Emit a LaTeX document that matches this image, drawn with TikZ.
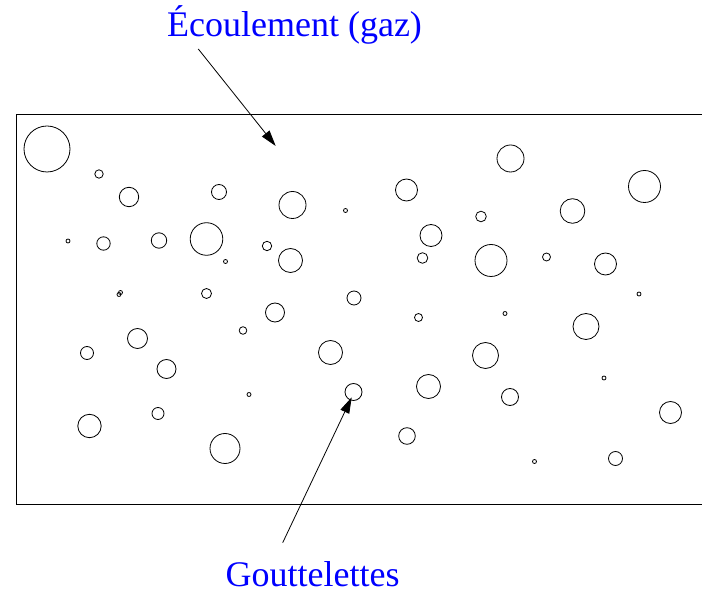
\documentclass[tikz,border=0pt]{standalone}
\usepackage{fontspec}
\setmainfont{Liberation Serif}
\usetikzlibrary{arrows.meta}
\definecolor{labelblue}{RGB}{0,0,255}
\tikzset{
  frame/.style={line width=0.8pt},
  drop/.style={line width=0.8pt},
  pointer/.style={line width=0.8pt,-{Triangle[length=16pt,width=9.5pt]}},
  lbl/.style={text=labelblue,font=\fontsize{36}{40}\selectfont,inner sep=0pt,anchor=base}
}
\begin{document}
\begin{tikzpicture}[x=1pt,y=-1pt]
\useasboundingbox (0,0) rectangle (702,593);
% channel
\draw[frame] (702,114) -- (16,114) -- (16,504) -- (702,504);
% droplets
\foreach \x/\y/\r in {
  47/149/23, 99/174/4.2, 129/197/9.7, 219/192/7.5, 68/241/2, 103.5/243.5/6.7,
  159/240.5/7.7, 206.5/239/16.3, 225.5/261.5/2, 119/294.5/2, 120.5/292.5/2,
  206.5/293.5/5,
  292.5/205/13.5, 345.5/210.5/2, 406.5/190/11, 431/235.5/11, 422.5/258/5.3,
  267/246/4.7, 290.5/260.5/12, 354/298/7,
  510.5/158.5/13.5, 644.5/186.5/16, 572.5/211/12.3, 481/216.5/5.3,
  491/260.5/16, 546.5/257/4, 605.5/264/11, 639/294/2,
  87/353/6.5, 137.5/338.5/10, 166.5/369/9.5, 158/413.5/6, 89.5/426/11.7,
  225/448.5/15,
  275/312.5/9.5, 243/330.5/3.8, 418.5/317.5/4, 330.5/352.5/12, 249/394.5/2,
  353.5/392/8.5, 428.5/386.5/12, 407/436/8.3,
  505/313.5/2, 586/326.5/13, 485.5/355.5/13, 604/378/2, 510/397/8.5,
  670.5/412.5/11, 534.5/461.5/2, 615.5/458.5/7}
  \draw[drop] (\x,\y) circle[radius=\r];
% labels
\node[lbl] (flow) at (294.5,36.5) {Écoulement (gaz)};
\node[lbl] (drops) at (312.5,586) {Gouttelettes};
\coordinate (flowstart) at (198.3,49);
\coordinate (flowend) at (275.7,146);
\coordinate (dropstart) at (282.7,542.7);
\coordinate (dropend) at (351.7,397.3);
\draw[pointer] (flowstart) -- (flowend);
\draw[pointer] (dropstart) -- (dropend);
\end{tikzpicture}
\end{document}
